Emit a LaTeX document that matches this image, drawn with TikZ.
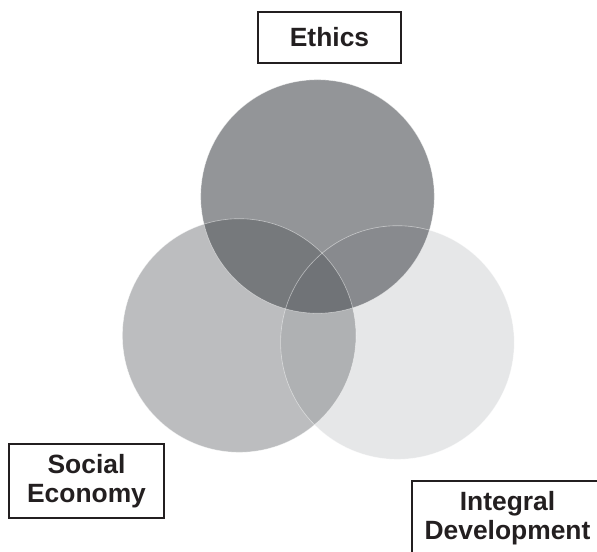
\documentclass[tikz,border=0pt]{standalone}
\usepackage{fontspec}
\setmainfont{Liberation Sans}
\begin{document}
\begin{tikzpicture}[x=0.75pt,y=-0.75pt,
  lbl/.style={draw={rgb,255:red,35;green,31;blue,32},line width=0.9pt,fill=white,
    text={rgb,255:red,35;green,31;blue,32},align=center,inner sep=0pt,
    font=\bfseries\fontsize{19.8}{21.8}\selectfont},
  rim/.style={draw=white,draw opacity=0.5,line width=0.45pt}]
\useasboundingbox (0,0) rectangle (597,552);
\clip (0,0) rectangle (597,552);
\definecolor{cright}{RGB}{230,231,232}
\definecolor{cleft}{RGB}{126,129,132}
\definecolor{ctop}{RGB}{67,71,76}
% circles
\coordinate (ctopc) at (317.5,196.5);
\coordinate (cleftc) at (239.2,335.5);
\coordinate (crightc) at (397.4,342.5);
\fill[cright] (crightc) circle[radius=87.6pt];
\fill[cleft,fill opacity=0.52] (cleftc) circle[radius=87.6pt];
\fill[ctop,fill opacity=0.577] (ctopc) circle[radius=87.6pt];
\draw[rim] (crightc) circle[radius=87.6pt];
\draw[rim] (cleftc) circle[radius=87.6pt];
\draw[rim] (ctopc) circle[radius=87.6pt];
% labels
\node[lbl,minimum width=107.25pt,minimum height=38.25pt] (ethics) at (329.5,37.5) {Ethics};
\node[lbl,minimum width=116.25pt,minimum height=55.5pt] (social) at (86.5,481) {Social\\Economy};
\node[lbl,minimum width=143.25pt,minimum height=55.5pt] (integral) at (507.5,518) {Integral\\Development};
\end{tikzpicture}
\end{document}
